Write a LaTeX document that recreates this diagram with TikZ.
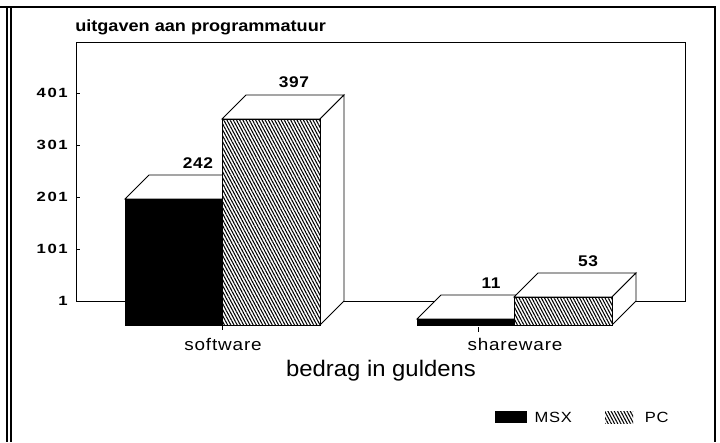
\documentclass[tikz,border=0pt]{standalone}
\usepackage{fontspec}
\setmainfont{Liberation Sans}
\newfontfamily\chartfont[FakeStretch=1.12]{Liberation Sans}
\usetikzlibrary{patterns.meta}

\begin{document}
\begin{tikzpicture}
[x=0.025cm,y=-0.025cm,
  framedecorate/.style={line width=1.3pt},
  walldecorate/.style={line width=0.6pt},
  topdecorate/.style={draw,line width=0.6pt,fill=white},
  msxdecorate/.style={draw,line width=0.6pt,fill=black},
  pcdecorate/.style={draw,line width=0.6pt,preaction={fill=white},
    pattern={Lines[angle=-62,distance=2pt,line width=0.75pt]}},
  ticklabel/.style={anchor=east,inner sep=0pt,
    font=\chartfont\bfseries\fontsize{9.5}{10}\selectfont\addfontfeatures{LetterSpace=12,FakeStretch=1.25}},
  valuelabel/.style={inner sep=0pt,
    font=\chartfont\bfseries\fontsize{11}{12}\selectfont\addfontfeatures{LetterSpace=4}},
  catlabel/.style={inner sep=0pt,
    font=\chartfont\fontsize{12}{13}\selectfont\addfontfeatures{LetterSpace=5}},
  legendbox/.style={minimum width=0.8cm,minimum height=0.3cm,inner sep=0pt}]
\useasboundingbox[fill=white] (0,0) rectangle (720,442);
% outer frame
\draw[framedecorate] (0,7) -- (715,7) -- (715,442);
\draw[framedecorate] (7,7) -- (7,442);
\draw[line width=0.9pt] (11,7) -- (11,442);
% title
\node (title) at (75,27) [anchor=west,inner sep=0pt,
  font=\chartfont\bfseries\fontsize{11.5}{12}\selectfont] {uitgaven aan programmatuur};
% back wall and axis
\draw[walldecorate] (76,42) rectangle (685,301);
\draw[walldecorate] (76,93) -- (80,93);
\draw[walldecorate] (76,145) -- (80,145);
\draw[walldecorate] (76,197) -- (80,197);
\draw[walldecorate] (76,249) -- (80,249);
\node (y401) at (68,93) [ticklabel] {401};
\node (y301) at (68,145) [ticklabel] {301};
\node (y201) at (68,197) [ticklabel] {201};
\node (y101) at (68,249) [ticklabel] {101};
\node (y1) at (68,301) [ticklabel] {1};
% software bars
\draw[topdecorate] (125,199) -- (149,175) -- (246,175) -- (222,199) -- cycle;
\draw[msxdecorate] (125,199) rectangle (222,325);
\draw[topdecorate] (222,119) -- (246,95) -- (344,95) -- (320,119) -- cycle;
\draw[topdecorate] (320,119) -- (344,95) -- (344,301) -- (320,325) -- cycle;
\draw[pcdecorate] (222,119) rectangle (320,325);
\node (v242) at (198,163) [valuelabel] {242};
\node (v397) at (294,82) [valuelabel] {397};
% shareware bars
\draw[topdecorate] (417,319) -- (441,295) -- (538,295) -- (514,319) -- cycle;
\draw[msxdecorate] (417,319) rectangle (514,325);
\draw[topdecorate] (514,297) -- (538,273) -- (636,273) -- (612,297) -- cycle;
\draw[topdecorate] (612,297) -- (636,273) -- (636,301) -- (612,325) -- cycle;
\draw[pcdecorate] (514,297) rectangle (612,325);
\node (v11) at (491,283) [valuelabel] {11};
\node (v53) at (588,261) [valuelabel] {53};
% category axis
\draw[line width=0.4pt] (222,325) -- (222,330);
\draw[line width=0.4pt] (478,327) -- (478,332);
\node (software) at (223,344) [catlabel] {software};
\node (shareware) at (515,344) [catlabel] {shareware};
\node (xtitle) at (381,371) [inner sep=0pt,
  font=\chartfont\fontsize{16}{18}\selectfont\addfontfeatures{FakeStretch=1.06}] {bedrag in guldens};
% legend
\node (msxkey) at (511,417) [legendbox,fill=black] {};
\node (msxtext) [anchor=west,catlabel,font=\chartfont\fontsize{10.5}{12}\selectfont\addfontfeatures{LetterSpace=5}]
  at ([xshift=5pt]msxkey.east) {MSX};
\node (pckey) at (619,417) [legendbox,minimum width=0.7cm,
  pattern={Lines[angle=-62,distance=2pt,line width=0.75pt]}] {};
\node (pctext) [anchor=west,catlabel,font=\chartfont\fontsize{10.5}{12}\selectfont\addfontfeatures{LetterSpace=5}]
  at ([xshift=8pt]pckey.east) {PC};
\end{tikzpicture}
\end{document}
